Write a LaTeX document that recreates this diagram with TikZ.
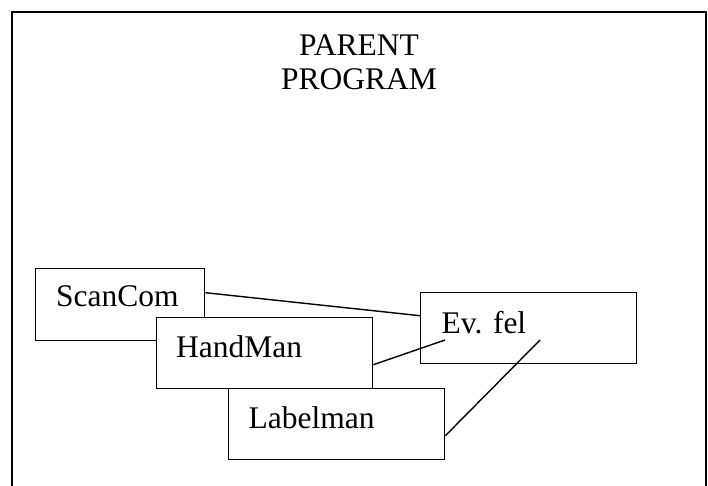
\documentclass[tikz,border=0pt]{standalone}
\usepackage{fontspec}
\setmainfont{Liberation Serif}
\begin{document}
\begin{tikzpicture}[x=1pt,y=-1pt,
  box/.style={draw, line width=1.4pt, fill=white, inner sep=0pt, anchor=north west,
              minimum width=216pt, minimum height=71pt},
  lbl/.style={anchor=base west, inner sep=0pt, font=\fontsize{31.5}{34}\selectfont},
  title/.style={anchor=base, inner sep=0pt, align=center, font=\fontsize{31.5}{34}\selectfont},
  link/.style={line width=1.4pt},
  frame/.style={line width=2pt}]
\useasboundingbox (0,0) rectangle (708,486);

% outer frame of the parent program (open at the bottom)
\draw[frame] (12,486) -- (12,12) -- (706,12) -- (706,486);
% the base anchor of a two-line node sits on its last line
\node[title] (parent) at (359,90) {PARENT\\PROGRAM};

% module boxes, later ones covering the earlier ones
\node[box, minimum width=169pt, minimum height=72pt] (scan) at (35,268) {};
\node[lbl] (scanT) at ([shift={(21,38)}]scan.north west) {ScanCom};

\node[box] (hm) at (156,317) {};
\node[lbl] (hmT) at ([shift={(20,40)}]hm.north west) {HandMan};

\node[box] (lab) at (228,388) {};
\node[lbl] (labT) at ([shift={(20.5,40.5)}]lab.north west) {Labelman};

\node[box] (ev) at (420,292) {};
\node[lbl] (evT) at ([shift={(21.5,41)}]ev.north west) {Ev. fel};

% free ends of the connectors inside the Ev. fel box
\coordinate (hmEnd) at ([shift={(25,48)}]ev.north west);
\coordinate (labEnd) at ([shift={(120,48)}]ev.north west);

% connectors
\draw[link] ([yshift=12pt]scan.east) -- ([yshift=12.5pt]ev.west);
\draw[link] ([yshift=-11.5pt]hm.east) -- (hmEnd);
\draw[link] ([yshift=-11.5pt]lab.east) -- (labEnd);
\end{tikzpicture}
\end{document}
